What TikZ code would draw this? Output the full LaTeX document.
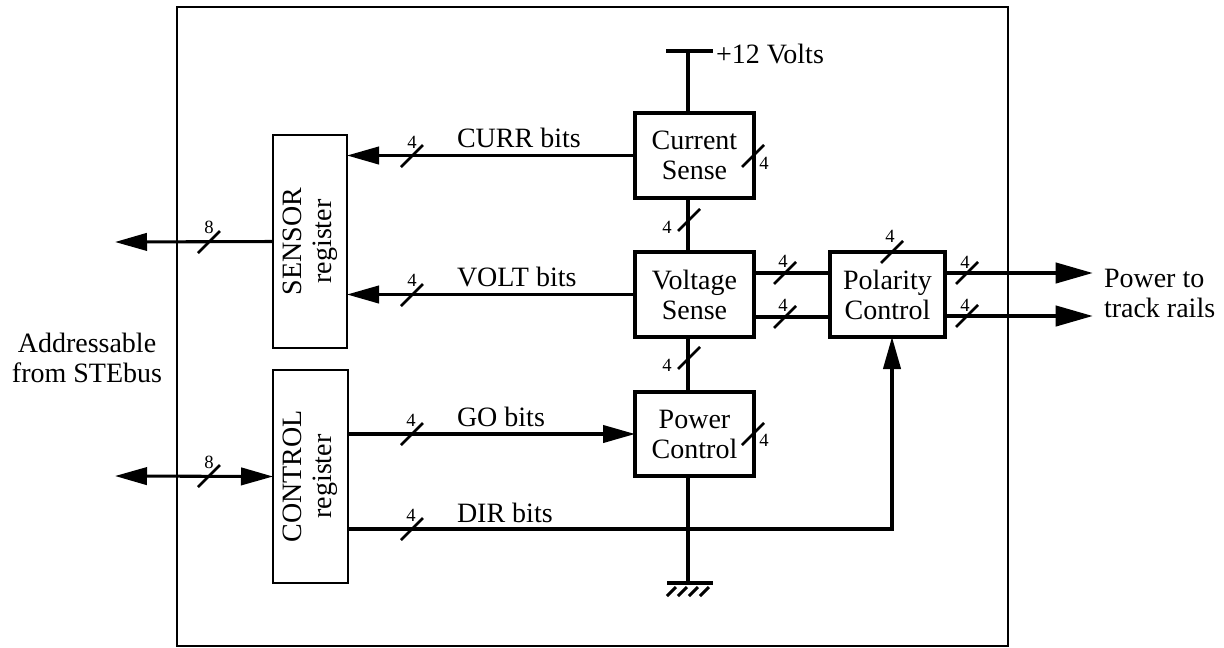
\documentclass[tikz,border=0pt]{standalone}
\usepackage{fontspec}
\setmainfont{Liberation Serif}
\usetikzlibrary{arrows.meta}
\begin{document}
\begin{tikzpicture}[x=0.75pt,y=-0.75pt,
  every node/.style={inner sep=0pt, outer sep=0pt},
  big/.style={font=\fontsize{21}{22.5}\selectfont},
  num/.style={font=\fontsize{14}{16}\selectfont},
  sbox/.style={draw, line width=3.3pt, align=center, big},
  regbox/.style={draw, line width=1.5pt},
  regtext/.style={rotate=90, align=center, big},
  sig/.style={line width=2.3pt},
  bus/.style={line width=3.2pt},
  tip/.style={-{Triangle[length=24pt,width=13pt]}},
  bothtip/.style={{Triangle[length=24pt,width=13pt]}-{Triangle[length=24pt,width=13pt]}},
  outtip/.style={-{Triangle[length=28pt,width=15pt]}},
  slash/.pic={\draw[line width=2pt] (-11,11) -- (11,-11);}
]
\useasboundingbox (0,0) rectangle (1224,647);
% frame
\draw[line width=1.2pt] (177,7) rectangle (1008,646);

% registers
\node[regbox, minimum width=55.5pt, minimum height=159.75pt] (sr) at (310,241.5) {};
\node[regtext] (srt) at (sr.center) {SENSOR\\register};
\node[regbox, minimum width=56.25pt, minimum height=159.75pt] (cr) at (310.5,476.5) {};
\node[regtext] (crt) at (cr.center) {CONTROL\\register};

% sense / control boxes
\node[sbox, minimum width=89.25pt, minimum height=63.75pt] (cs) at (694.5,155.5) {Current\\Sense};
\node[sbox, minimum width=89.25pt, minimum height=63.75pt] (vs) at (694.5,294.5) {Voltage\\Sense};
\node[sbox, minimum width=89.25pt, minimum height=63pt] (ps) at (694.5,434) {Power\\Control};
\node[sbox, minimum width=86.25pt, minimum height=63.75pt] (pol) at (887.5,294.5) {Polarity\\Control};

% spine
\coordinate (vtop) at (688,51);
\coordinate (gnd) at (688,583);
\draw[bus] (vtop) -- (cs.north -| vtop);
\draw[bus] (cs.south -| vtop) -- (vs.north -| vtop);
\draw[bus] (vs.south -| vtop) -- (ps.north -| vtop);
\draw[bus] (ps.south -| vtop) -- (gnd);
% +12 V bar
\draw[line width=3.6pt] (666,51) -- (713,51);
\node[big, anchor=base west] (v12) at (716,63) {+12 Volts};
% ground
\draw[line width=3.2pt] (667,583) -- (713,583);
\foreach \i in {0,1,2,3} {
  \draw[line width=2.2pt] (667+11*\i,596) -- (676+11*\i,587);
}

% signals to sensor register
\draw[sig, tip] (cs.west) -- (sr.east |- cs.west);
\draw[sig, tip] (vs.west) -- (sr.east |- vs.west);
\node[big, anchor=base west] (currl) at (457,147) {CURR bits};
\node[big, anchor=base west] (voltl) at (457,286) {VOLT bits};

% control register outputs
\draw[sig, tip] (cr.east |- ps.west) -- (ps.west);
\coordinate (dirbend) at (892,529);
\draw[sig, tip] (cr.east |- dirbend) -- (dirbend) -- (pol.south -| dirbend);
\node[big, anchor=base west] (gol) at (457,426) {GO bits};
\node[big, anchor=base west] (dirl) at (457,522) {DIR bits};

% voltage -> polarity
\draw[bus] ([yshift=16.1pt]vs.east) -- ([yshift=16.1pt]pol.west);
\draw[bus] ([yshift=-16.9pt]vs.east) -- ([yshift=-16.9pt]pol.west);

% outputs
\coordinate (o1) at (1093,273);
\coordinate (o2) at (1093,316);
\draw[bus, outtip] (pol.east |- o1) -- (o1);
\draw[bus, outtip] (pol.east |- o2) -- (o2);
\node[big, anchor=west, align=left] (pwr) at (1104,293) {Power to\\track rails};

% STEbus side
\coordinate (sout) at (115,242);
\coordinate (cin) at (115,476);
\draw[sig, tip] (sr.west) -- (sout);
\draw[sig, bothtip] (cin) -- (cr.west);
\node[big, align=center] (addr) at (87,358) {Addressable\\from STEbus};

% bus-width slashes and labels
\pic at (412,156) {slash}; \node[num] (t1) at (412,142) {4};
\pic at (412,295) {slash}; \node[num] (t2) at (412,280) {4};
\pic at (412,434) {slash}; \node[num] (t3) at (411,420) {4};
\pic at (412,529) {slash}; \node[num] (t4) at (411,515) {4};
\pic at (209,242) {slash}; \node[num] (t5) at (209,227) {8};
\pic at (209,476) {slash}; \node[num] (t6) at (209,462) {8};
\pic at (689,220) {slash}; \node[num] (t7) at (667,227) {4};
\pic at (689,358) {slash}; \node[num] (t8) at (667,365) {4};
\pic at (753,156) {slash}; \node[num] (t9) at (764,163) {4};
\pic at (753,434) {slash}; \node[num] (t10) at (764,440) {4};
\pic at (892,252) {slash}; \node[num] (t11) at (890,236) {4};
\pic at (785,273) {slash}; \node[num] (t12) at (783,261) {4};
\pic at (785,317) {slash}; \node[num] (t13) at (783,305) {4};
\pic at (967,273) {slash}; \node[num] (t14) at (965,262) {4};
\pic at (967,316) {slash}; \node[num] (t15) at (965,305) {4};
\end{tikzpicture}
\end{document}
